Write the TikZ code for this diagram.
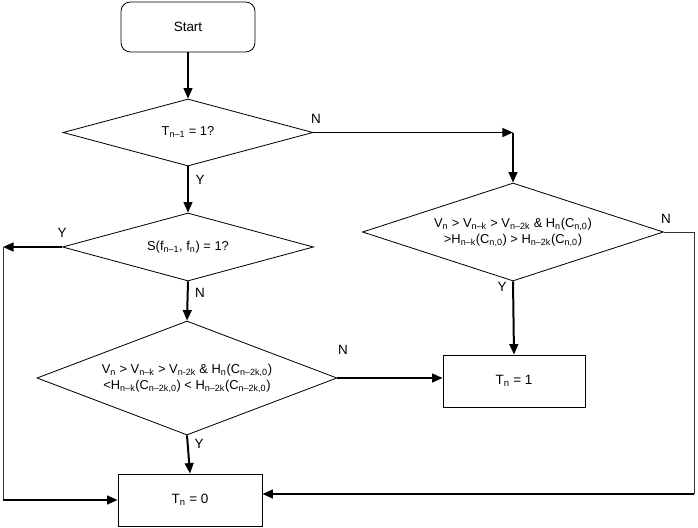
\documentclass[tikz,border=0pt]{standalone}
\usepackage{fontspec}
\setmainfont{Liberation Sans}
\usepackage{tikz}
\usetikzlibrary{arrows.meta,shapes.geometric}
\newcommand{\subs}[1]{\textsubscript{#1}}
\newcommand{\dtext}[1]{\smash{\makebox[0pt]{\raisebox{-0.25em}{\begin{tabular}{@{}c@{}}#1\end{tabular}}}}}
\tikzset{
  box/.style={draw=black,line width=0.7pt,minimum width=#1,minimum height=52*0.03cm,inner sep=0pt,font=\fontsize{11.5}{14}\selectfont},
  box/.default=142*0.03cm,
  dia/.style 2 args={diamond,draw=black,line width=0.7pt,minimum width=#1*0.03cm,minimum height=#2*0.03cm,inner sep=0pt,font=\fontsize{11}{14}\selectfont},
  arr/.style={-{Triangle[length=9pt,width=7.5pt]},line width=1.7pt},
  wire/.style={line width=0.7pt,draw=black!80},
  lab/.style={font=\fontsize{11.5}{13}\selectfont,inner sep=0pt},
}
\begin{document}
\begin{tikzpicture}[x=0.03cm,y=-0.03cm]
  \useasboundingbox (0,0) rectangle (698,527);
  % nodes
  \node[box=134*0.03cm,minimum height=50*0.03cm,rounded corners=8pt] (start) at (188,27) {Start};
  \node[dia={250}{67}] (d1) at (188,132.5) {\dtext{T\subs{n–1} = 1?}};
  \node[dia={251}{68}] (d2) at (188,247) {\dtext{S(f\subs{n–1}, f\subs{n}) = 1?}};
  \node[dia={300}{114}] (d3) at (187,378) {\dtext{V\subs{n} > V\subs{n–k} > V\subs{n-2k} \& H\subs{n}(C\subs{n–2k,0})\\
    <H\subs{n–k}(C\subs{n–2k,0}) < H\subs{n–2k}(C\subs{n–2k,0})}};
  \node[dia={301}{98}] (d4) at (513,232) {\dtext{V\subs{n} > V\subs{n–k} > V\subs{n–2k} \& H\subs{n}(C\subs{n,0})\\
    >H\subs{n–k}(C\subs{n,0}) > H\subs{n–2k}(C\subs{n,0})}};
  \node[box] (t1) at (514,381) {T\subs{n} = 1};
  \node[box=144*0.03cm] (t0) at (190,500) {T\subs{n} = 0};
  \coordinate (c1) at (513,132.5);
  \coordinate (c2) at (3,247);
  \coordinate (c3) at (3,500);
  \coordinate (c4) at (694,232);
  \coordinate (c5) at (694,494);
  % connectors
  \foreach \p/\q in {start/d1,d1/d2,d2/d3,d3/t0,d4/t1}{\draw[arr] (\p.south) -- (\q.north);}
  \draw[arr] (d1.east) -- (c1);
  \draw[arr] (c1) -- (d4.north);
  \draw[arr] (d3.east) -- (t1.west |- d3.east);
  \draw[arr] (d2.west) -- (c2);
  \draw[wire] (c2) -- (c3);
  \draw[arr] (c3) -- (t0.west);
  \draw[wire] (d4.east) -- (c4) -- (c5);
  \draw[arr] (c5) -- (c5 -| t0.east);
  % labels
  \node[lab] at (316,119) {N};
  \node[lab] at (200,180) {Y};
  \node[lab] at (62,233) {Y};
  \node[lab] at (200,293) {N};
  \node[lab] at (343,350) {N};
  \node[lab] at (199,444) {Y};
  \node[lab] at (502,287) {Y};
  \node[lab] at (666,219) {N};
\end{tikzpicture}
\end{document}
